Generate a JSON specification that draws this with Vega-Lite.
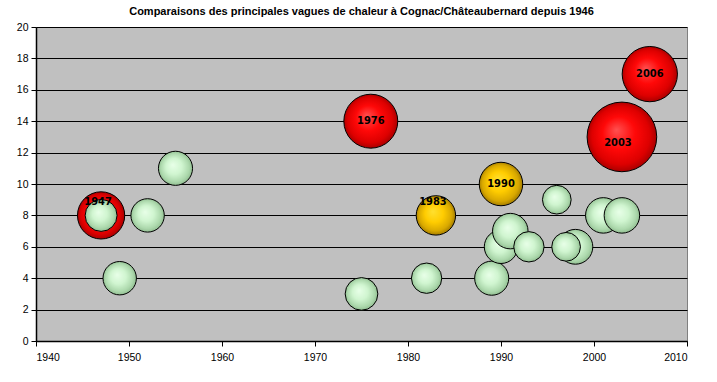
{
  "$schema": "https://vega.github.io/schema/vega-lite/v6.json",
  "width": 651,
  "height": 314,
  "autosize": {"type": "none"},
  "padding": {"left": 36, "top": 27, "right": 30, "bottom": 41},
  "background": "white",
  "title": {
    "text": "Comparaisons des principales vagues de chaleur à Cognac/Châteaubernard depuis 1946",
    "font": "Liberation Sans",
    "fontSize": 11,
    "fontWeight": "bold",
    "color": "black",
    "anchor": "middle",
    "offset": 5
  },
  "config": {
    "view": {"fill": "#c0c0c0", "stroke": "#808080", "strokeWidth": 1},
    "axis": {
      "labelFont": "Liberation Sans",
      "labelFontSize": 10.5,
      "labelColor": "black",
      "domainColor": "black",
      "tickColor": "black",
      "gridColor": "black",
      "gridOpacity": 1,
      "gridWidth": 1,
      "title": null
    }
  },
  "datasets": {
    "vagues": [
      {"annee": 1947, "valeur": 8, "taille": 46, "groupe": "rouge", "etiquette": "1947", "pos": "haut"},
      {"annee": 2006, "valeur": 17, "taille": 63, "groupe": "rouge", "etiquette": "2006", "pos": "centre"},
      {"annee": 1976, "valeur": 14, "taille": 60, "groupe": "rouge", "etiquette": "1976", "pos": "centre"},
      {"annee": 2003, "valeur": 13, "taille": 100, "groupe": "rouge", "etiquette": "2003", "pos": "bas"},
      {"annee": 1983, "valeur": 8, "taille": 32, "groupe": "or", "etiquette": "1983", "pos": "haut"},
      {"annee": 1990, "valeur": 10, "taille": 39, "groupe": "or", "etiquette": "1990", "pos": "centre"},
      {"annee": 1947, "valeur": 8, "taille": 21, "groupe": "vert", "etiquette": "", "pos": ""},
      {"annee": 1949, "valeur": 4, "taille": 23, "groupe": "vert", "etiquette": "", "pos": ""},
      {"annee": 1952, "valeur": 8, "taille": 23, "groupe": "vert", "etiquette": "", "pos": ""},
      {"annee": 1955, "valeur": 11, "taille": 24, "groupe": "vert", "etiquette": "", "pos": ""},
      {"annee": 1975, "valeur": 3, "taille": 22, "groupe": "vert", "etiquette": "", "pos": ""},
      {"annee": 1982, "valeur": 4, "taille": 19, "groupe": "vert", "etiquette": "", "pos": ""},
      {"annee": 1989, "valeur": 4, "taille": 24, "groupe": "vert", "etiquette": "", "pos": ""},
      {"annee": 1990, "valeur": 6, "taille": 23, "groupe": "vert", "etiquette": "", "pos": ""},
      {"annee": 1991, "valeur": 7, "taille": 26, "groupe": "vert", "etiquette": "", "pos": ""},
      {"annee": 1993, "valeur": 6, "taille": 19, "groupe": "vert", "etiquette": "", "pos": ""},
      {"annee": 1996, "valeur": 9, "taille": 17, "groupe": "vert", "etiquette": "", "pos": ""},
      {"annee": 1998, "valeur": 6, "taille": 25, "groupe": "vert", "etiquette": "", "pos": ""},
      {"annee": 1997, "valeur": 6, "taille": 17, "groupe": "vert", "etiquette": "", "pos": ""},
      {"annee": 2001, "valeur": 8, "taille": 26, "groupe": "vert", "etiquette": "", "pos": ""},
      {"annee": 2003, "valeur": 8, "taille": 26, "groupe": "vert", "etiquette": "", "pos": ""}
    ]
  },
  "data": {"name": "vagues"},
  "encoding": {
    "x": {
      "field": "annee",
      "type": "quantitative",
      "scale": {"domain": [1940, 2010], "nice": false, "zero": false},
      "axis": {"values": [1940, 1950, 1960, 1970, 1980, 1990, 2000, 2010], "format": "d", "grid": false, "tickSize": 5, "labelPadding": 6, "domainWidth": 1.5}
    },
    "y": {
      "field": "valeur",
      "type": "quantitative",
      "scale": {"domain": [0, 20], "nice": false},
      "axis": {"values": [0, 2, 4, 6, 8, 10, 12, 14, 16, 18, 20], "grid": true, "tickSize": 5, "labelPadding": 3, "domainWidth": 1.5}
    }
  },
  "layer": [
    {
      "transform": [{"filter": "datum.groupe === 'rouge'"}],
      "mark": {
        "type": "circle",
        "opacity": 1,
        "stroke": "black",
        "strokeWidth": 1,
        "color": {"gradient": "radial", "x1": 0.42, "y1": 0.4, "r1": 0, "x2": 0.5, "y2": 0.5, "r2": 0.52,
          "stops": [{"offset": 0, "color": "#ff5050"}, {"offset": 0.45, "color": "#ff0808"}, {"offset": 0.8, "color": "#dd0000"}, {"offset": 1, "color": "#a00000"}]}
      },
      "encoding": {
        "size": {"field": "taille", "type": "quantitative", "scale": {"domain": [0, 100], "range": [0, 4850], "zero": true}, "legend": null}
      }
    },
    {
      "transform": [{"filter": "datum.groupe === 'or'"}],
      "mark": {
        "type": "circle",
        "opacity": 1,
        "stroke": "black",
        "strokeWidth": 1,
        "color": {"gradient": "radial", "x1": 0.42, "y1": 0.4, "r1": 0, "x2": 0.5, "y2": 0.5, "r2": 0.52,
          "stops": [{"offset": 0, "color": "#ffe030"}, {"offset": 0.45, "color": "#ffcc00"}, {"offset": 0.8, "color": "#d8a800"}, {"offset": 1, "color": "#9a7400"}]}
      },
      "encoding": {
        "size": {"field": "taille", "type": "quantitative", "scale": {"domain": [0, 100], "range": [0, 4850], "zero": true}, "legend": null}
      }
    },
    {
      "transform": [{"filter": "datum.groupe === 'vert'"}],
      "mark": {
        "type": "circle",
        "opacity": 1,
        "stroke": "black",
        "strokeWidth": 1,
        "color": {"gradient": "radial", "x1": 0.42, "y1": 0.4, "r1": 0, "x2": 0.5, "y2": 0.5, "r2": 0.52,
          "stops": [{"offset": 0, "color": "#e8ffe8"}, {"offset": 0.45, "color": "#d0f5d0"}, {"offset": 0.8, "color": "#acd8ac"}, {"offset": 1, "color": "#8cb88c"}]}
      },
      "encoding": {
        "size": {"field": "taille", "type": "quantitative", "scale": {"domain": [0, 100], "range": [0, 4850], "zero": true}, "legend": null}
      }
    },
    {
      "transform": [{"filter": "datum.pos === 'centre'"}],
      "mark": {"type": "text", "font": "DejaVu Sans Condensed", "fontSize": 11, "fontWeight": "bold", "color": "black", "baseline": "middle", "align": "center"},
      "encoding": {"text": {"field": "etiquette"}}
    },
    {
      "transform": [{"filter": "datum.pos === 'haut'"}],
      "mark": {"type": "text", "font": "DejaVu Sans Condensed", "fontSize": 11, "fontWeight": "bold", "color": "black", "baseline": "middle", "align": "center", "dy": -13, "dx": -3},
      "encoding": {"text": {"field": "etiquette"}}
    },
    {
      "transform": [{"filter": "datum.pos === 'bas'"}],
      "mark": {"type": "text", "font": "DejaVu Sans Condensed", "fontSize": 11, "fontWeight": "bold", "color": "black", "baseline": "middle", "align": "center", "dy": 6, "dx": -4},
      "encoding": {"text": {"field": "etiquette"}}
    }
  ]
}
